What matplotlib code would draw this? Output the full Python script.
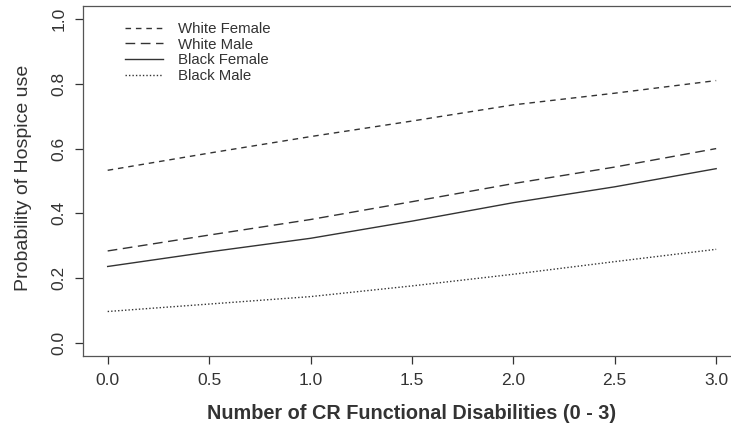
import matplotlib
matplotlib.use("Agg")
from matplotlib import pyplot as plt

plt.rcParams['font.family'] = ['Liberation Sans', 'DejaVu Sans']

# predicted probability of hospice use
disabilities = [0.0, 0.5, 1.0, 1.5, 2.0, 2.5, 3.0]
white_female = [0.533, 0.586, 0.637, 0.685, 0.735, 0.771, 0.810]
white_male = [0.284, 0.333, 0.381, 0.436, 0.492, 0.543, 0.600]
black_female = [0.236, 0.281, 0.323, 0.376, 0.433, 0.482, 0.538]
black_male = [0.097, 0.120, 0.143, 0.176, 0.212, 0.251, 0.289]

labels = ['White Female', 'White Male', 'Black Female', 'Black Male']
x_ticks = [0.0, 0.5, 1.0, 1.5, 2.0, 2.5, 3.0]
y_ticks = [0.0, 0.2, 0.4, 0.6, 0.8, 1.0]

ink = '#333333'

fig = plt.figure(figsize=(7.31, 4.34), dpi=100)
ax = fig.add_axes([0.114, 0.180, 0.899, 0.806])

ax.plot(disabilities, white_female, color=ink, lw=1.0, dashes=(4, 3.5), label=labels[0])
ax.plot(disabilities, white_male, color=ink, lw=1.0, dashes=(7, 4), label=labels[1])
ax.plot(disabilities, black_female, color=ink, lw=1.0, label=labels[2])
ax.plot(disabilities, black_male, color=ink, lw=1.0, dashes=(1, 1.5), label=labels[3])

ax.set_xlim(-0.12, 3.12)
ax.set_ylim(-0.04, 1.04)
ax.set_xticks(x_ticks)
ax.set_xticklabels(['%.1f' % v for v in x_ticks])
ax.set_yticks(y_ticks)
ax.set_yticklabels(['%.1f' % v for v in y_ticks], rotation=90, va='center')
ax.tick_params(direction='out', length=6, width=0.9, colors=ink, labelsize=12.5, pad=6)
for s in ax.spines.values():
    s.set_color('#555555')
    s.set_linewidth(0.9)

ax.set_xlabel('Number of CR Functional Disabilities (0 - 3)', fontsize=14.3,
              fontweight='bold', color=ink, labelpad=12)
ax.set_ylabel('Probability of Hospice use', fontsize=14, color=ink)
ax.yaxis.set_label_coords(-0.078, 0.51)

leg = ax.legend(loc='upper left', bbox_to_anchor=(0.048, 0.985), frameon=False,
                fontsize=10.8, handlelength=2.5, handletextpad=1.0,
                labelspacing=0.12, borderaxespad=0.3)
for t in leg.get_texts():
    t.set_color(ink)

fig.savefig('out.png', dpi=100)
